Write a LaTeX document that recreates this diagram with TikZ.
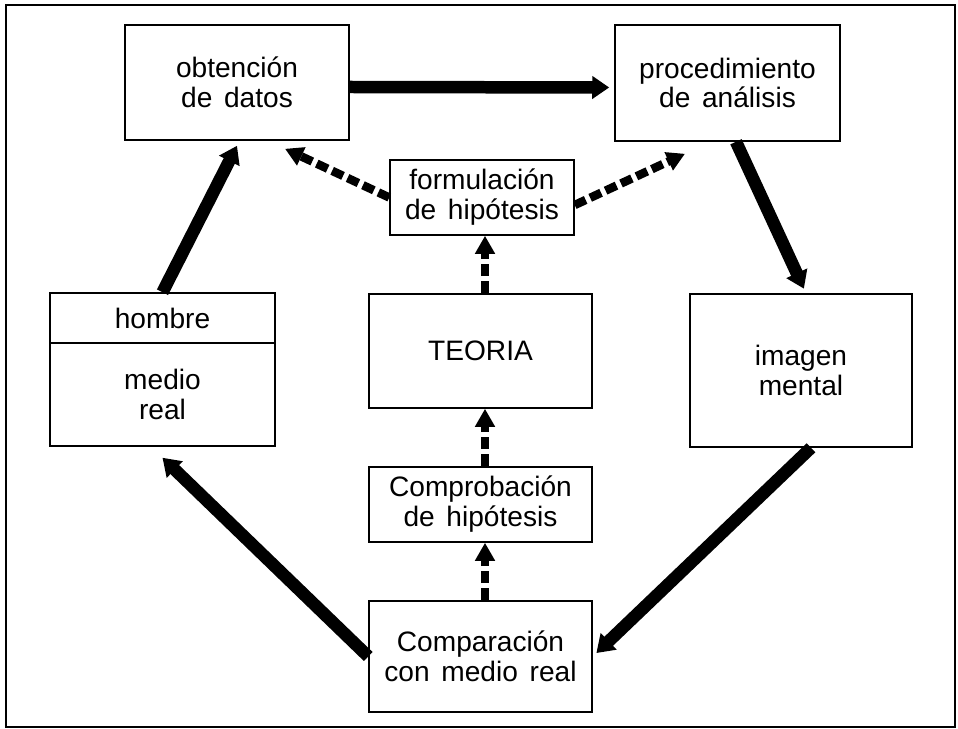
\documentclass[tikz,border=0pt]{standalone}
\usepackage{fontspec}
\setmainfont[WordSpace=1.5]{Liberation Sans}
\usetikzlibrary{arrows.meta}

\begin{document}
\begin{tikzpicture}[x=0.02cm,y=-0.02cm,
        caja/.style={draw,line width=0.9pt,align=center,inner sep=0pt,
            font=\fontsize{16}{17}\selectfont},
        flecha/.style={line width=0.25cm,
            -{Triangle[width=0.44cm,length=0.34cm]}},
        trazos/.style={line width=0.17cm,dash pattern=on 0.24cm off 0.1cm,
            -{Triangle[width=0.38cm,length=0.36cm]}}]
    \useasboundingbox (0,0) rectangle (958,729);
    \draw[line width=0.8pt] (6,5) rectangle (955,727);
    % cajas
    \node[caja,minimum width=4.48cm,minimum height=2.3cm] (obt) at (237,82.5)
        {obtención\\de datos};
    \node[caja,minimum width=4.5cm,minimum height=2.32cm] (proc) at (727.5,83)
        {procedimiento\\de análisis};
    \node[caja,minimum width=3.68cm,minimum height=1.5cm] (form) at (482,197.5)
        {formulación\\de hipótesis};
    \node[caja,minimum width=4.5cm,minimum height=1cm] (hom) at (162.5,318)
        {hombre};
    \node[caja,minimum width=4.5cm,minimum height=2.06cm] (med) at (162.5,394.5)
        {medio\\real};
    \node[caja,minimum width=4.46cm,minimum height=2.28cm] (teo) at (480.5,351)
        {TEORIA};
    \node[caja,minimum width=4.44cm,minimum height=3.06cm] (img) at (801,370.5)
        {imagen\\mental};
    \node[caja,minimum width=4.46cm,minimum height=1.5cm] (compr) at (480.5,504.5)
        {Comprobación\\de hipótesis};
    \node[caja,minimum width=4.46cm,minimum height=2.22cm] (compa) at (480.5,656.5)
        {Comparación\\con medio real};
    \coordinate (eje) at (485,0);
    % ciclo
    \draw[flecha,shorten >=0.1cm] ([yshift=-0.09cm]obt.east)
        -- ([yshift=-0.09cm]proc.west);
    \draw[flecha,shorten >=0.1cm] ([xshift=0.17cm]proc.south)
        -- ([xshift=0.1cm]img.north);
    \draw[flecha,shorten >=0.1cm] ([xshift=0.2cm]img.south) -- (compa.east);
    \draw[flecha] (compa.west) -- ([yshift=-0.22cm]med.south);
    \draw[flecha] (hom.north) -- ([yshift=-0.1cm]obt.south);
    % hipotesis
    \draw[trazos] (form.west) -- ([xshift=0.96cm,yshift=-0.16cm]obt.south);
    \draw[trazos] ([yshift=-0.15cm]form.east)
        -- ([xshift=-0.85cm,yshift=-0.24cm]proc.south);
    \draw[trazos] (teo.north -| eje) -- (form.south -| eje);
    \draw[trazos] (compr.north -| eje) -- (teo.south -| eje);
    \draw[trazos] (compa.north -| eje) -- (compr.south -| eje);
\end{tikzpicture}
\end{document}
